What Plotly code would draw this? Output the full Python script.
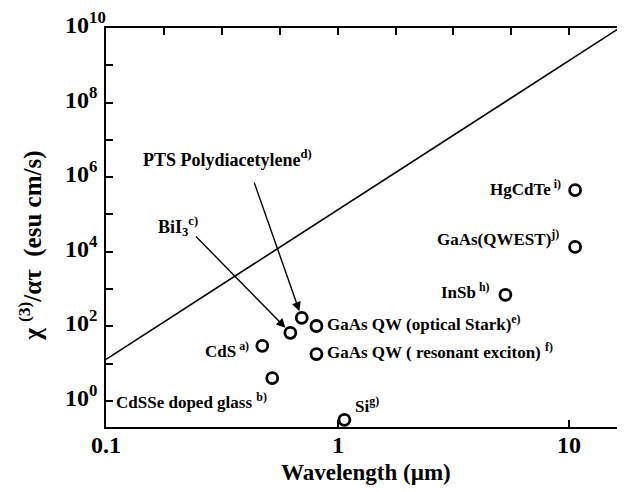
import plotly.graph_objects as go
import math

# ---------------- data ----------------
materials = ["CdS", "CdSSe doped glass", "BiI3", "PTS Polydiacetylene",
             "GaAs QW (optical Stark)", "GaAs QW (resonant exciton)", "Si",
             "InSb", "HgCdTe", "GaAs(QWEST)"]
wavelength_um = [0.473, 0.522, 0.625, 0.70, 0.81, 0.81, 1.07, 5.3, 10.6, 10.6]
chi3_over_alpha_tau = [30, 4.1, 67, 169, 102, 18, 0.31, 700, 4.5e5, 1.35e4]

# reference line (end points)
line_wavelength = [0.1, 17.6]
line_value = [13, 1.3e10]

x_ticks = [0.1, 1, 10]
x_tick_labels = ["0.1", "1", "10"]
top_ticks = [0.178, 0.316, 0.562, 1, 1.78, 3.16, 5.62, 10]
y_ticks = [1e0, 1e1, 1e2, 1e3, 1e4, 1e5, 1e6, 1e7, 1e8, 1e9, 1e10]
y_label_exponents = [0, 2, 4, 6, 8, 10]

FONT = "Liberation Serif, Times New Roman, Times, DejaVu Serif, serif"

fig = go.Figure()

fig.add_trace(go.Scatter(x=line_wavelength, y=line_value, mode="lines",
                         line=dict(color="black", width=1.6),
                         hoverinfo="skip", showlegend=False))
fig.add_trace(go.Scatter(x=wavelength_um, y=chi3_over_alpha_tau, mode="markers",
                         marker=dict(symbol="circle-open", size=11, color="black",
                                     line=dict(color="black", width=2.8)),
                         text=materials, showlegend=False))
# invisible trace to host the top axis
fig.add_trace(go.Scatter(x=line_wavelength, y=line_value, xaxis="x2", mode="lines",
                         line=dict(width=0), opacity=0, hoverinfo="skip",
                         showlegend=False))

xrange_log = [-1, 1.245]
yrange_log = [-0.70, 10]

fig.update_layout(
    width=625, height=492,
    margin=dict(l=98, r=5, t=20, b=73),
    paper_bgcolor="white", plot_bgcolor="white",
    font=dict(family=FONT, color="black"),
    xaxis=dict(type="log", range=xrange_log, tickvals=x_ticks,
               showticklabels=False,
               ticks="inside", ticklen=7, tickwidth=1.5, tickcolor="black",
               showline=True, linecolor="black", linewidth=2, mirror=True,
               showgrid=False, zeroline=False),
    xaxis2=dict(type="log", range=xrange_log, overlaying="x", side="top",
                tickvals=top_ticks, showticklabels=False,
                ticks="inside", ticklen=7, tickwidth=1.5, tickcolor="black",
                showline=False, showgrid=False, zeroline=False),
    yaxis=dict(type="log", range=yrange_log, tickvals=y_ticks,
               showticklabels=False,
               ticks="inside", ticklen=7, tickwidth=1.5, tickcolor="black",
               showline=True, linecolor="black", linewidth=2, mirror="ticks",
               showgrid=False, zeroline=False),
)

ann = []
# y tick labels
for e in y_label_exponents:
    ann.append(dict(xref="paper", yref="y", x=-0.082, y=e, xanchor="left",
                    yanchor="middle", yshift=5, showarrow=False,
                    text="<b>10<sup>%d</sup></b>" % e,
                    font=dict(size=24, family=FONT)))
# x tick labels
for v, t in zip(x_ticks, x_tick_labels):
    ann.append(dict(xref="x", yref="paper", x=math.log10(v), y=-0.045,
                    xanchor="center", yanchor="middle", showarrow=False,
                    text="<b>%s</b>" % t, font=dict(size=24, family=FONT)))

# axis titles
ann.append(dict(xref="paper", yref="paper", x=0.5, y=-0.115, xanchor="center",
                yanchor="middle", showarrow=False,
                text="<b>Wavelength (µm)</b>", font=dict(size=23, family=FONT)))
ann.append(dict(xref="paper", yref="paper", x=-0.145, y=0.453, xanchor="center",
                yanchor="middle", showarrow=False, textangle=-90,
                text="<b>χ <sup>(3)</sup>/ατ  (esu cm/s)</b>",
                font=dict(size=25, family=FONT)))

# point labels: (index, text, xanchor, xshift, yshift)
point_labels = [
    (0, "CdS<sup> a)</sup>", "right", -11, -4),
    (1, "CdSSe doped glass <sup>b)</sup>", "right", -3, -23),
    (4, "GaAs QW (optical Stark)<sup>e)</sup>", "left", 9, 3),
    (5, "GaAs QW ( resonant exciton) <sup>f)</sup>", "left", 9, 3),
    (6, "Si<sup>g)</sup>", "left", 9, 15),
    (7, "InSb<sup> h)</sup>", "right", -13, 4),
    (8, "HgCdTe<sup> i)</sup>", "right", -12, 2),
    (9, "GaAs(QWEST)<sup>j)</sup>", "right", -14, 9),
]
for i, txt, xa, xs, ys in point_labels:
    ann.append(dict(xref="x", yref="y", x=math.log10(wavelength_um[i]),
                    y=math.log10(chi3_over_alpha_tau[i]), xanchor=xa,
                    yanchor="middle", xshift=xs, yshift=ys, showarrow=False,
                    text="<b>%s</b>" % txt, font=dict(size=17, family=FONT)))

# arrow labels
ann.append(dict(xref="x", yref="y", x=math.log10(0.1415), y=6.51, xanchor="left",
                yanchor="middle", showarrow=False,
                text="<b>PTS Polydiacetylene<sup>d)</sup></b>",
                font=dict(size=18, family=FONT)))
ann.append(dict(xref="x", yref="y", x=math.log10(0.164), y=4.69, xanchor="left",
                yanchor="middle", showarrow=False,
                text="<b>BiI<sub>3</sub><sup>c)</sup></b>",
                font=dict(size=18, family=FONT)))

# arrows: (index of target point, tail wavelength, tail log-value)
arrows = [(3, 0.434, 5.90), (2, 0.241, 4.45)]
for i, tx, ty in arrows:
    ann.append(dict(xref="x", yref="y", axref="x", ayref="y",
                    x=math.log10(wavelength_um[i]), y=math.log10(chi3_over_alpha_tau[i]),
                    ax=math.log10(tx), ay=ty, text="", showarrow=True,
                    arrowhead=2, arrowsize=1.3, arrowwidth=1.4, arrowcolor="black",
                    standoff=7))

fig.update_layout(annotations=ann)
fig.write_html("out.html")
